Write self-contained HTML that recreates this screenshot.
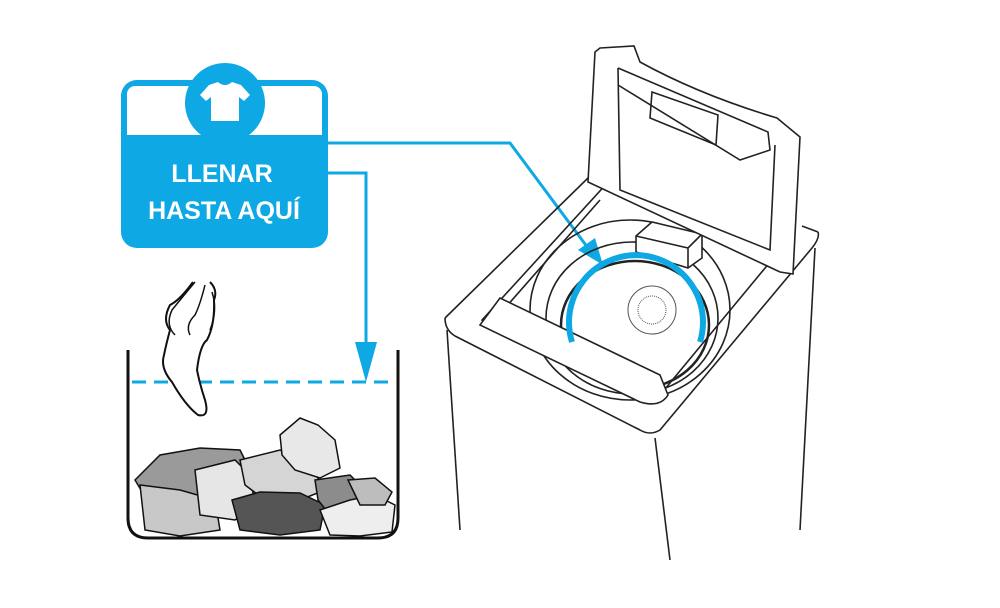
<!DOCTYPE html>
<html><head><meta charset="utf-8"><style>
html,body{margin:0;padding:0;background:#fff;}
svg{display:block;}
</style></head><body>
<svg width="1000" height="608" viewBox="0 0 1000 608" xmlns="http://www.w3.org/2000/svg">
<!-- label box -->
<rect x="121" y="80" width="207" height="168" rx="16" fill="#0ea8e4"/>
<rect x="127" y="86" width="195" height="49" rx="8" fill="#fff"/>
<rect x="127" y="120" width="195" height="15" fill="#fff"/>
<circle cx="225" cy="103" r="40" fill="#0ea8e4"/>
<path d="M209 85 L218 82 Q225 88 232 82 L241 85 L250 95 L244 101 L239 97 L239 121 L211 121 L211 97 L206 101 L200 95 Z" fill="#fff"/>
<text x="222" y="182" text-anchor="middle" font-family="Liberation Sans, sans-serif" font-weight="bold" font-size="25" fill="#fff">LLENAR</text>
<text x="224" y="219" text-anchor="middle" font-family="Liberation Sans, sans-serif" font-weight="bold" font-size="25" fill="#fff">HASTA AQUÍ</text>
<!-- connectors -->
<polyline points="328,143 510,143 588,248" fill="none" stroke="#0ea8e4" stroke-width="3"/>
<polygon points="603,265 578,250 595,238" fill="#0ea8e4"/>
<polyline points="328,173 366,173 366,350" fill="none" stroke="#0ea8e4" stroke-width="3"/>
<polygon points="355,342 377,342 366,382" fill="#0ea8e4"/>
<!-- bucket -->
<path d="M128 350 L128 518 Q128 538 148 538 L378 538 Q398 538 398 518 L398 350" fill="none" stroke="#111" stroke-width="3"/>
<line x1="132" y1="382" x2="396" y2="382" stroke="#0ea8e4" stroke-width="3" stroke-dasharray="14,8"/>
<!-- hand + sock -->
<path d="M193 282 Q180 300 170 305 Q162 320 170 330 Q166 345 164 355 Q160 368 172 382 Q185 405 198 415 Q210 418 205 400 Q200 385 197 370 Q200 345 207 340 Q215 325 214 300 Q218 290 210 282" fill="#fff" stroke="#111" stroke-width="2"/>
<path d="M195 282 Q180 300 172 310 Q165 325 175 335 M205 285 Q200 305 195 315 Q185 325 190 335 M212 292 Q218 310 210 330" fill="none" stroke="#111" stroke-width="1.5"/>
<!-- clothes -->
<g stroke="#111" stroke-width="1.5">
<path d="M135 480 L160 455 L200 448 L240 450 L250 470 L230 500 L190 510 L150 505 Z" fill="#9a9a9a"/>
<path d="M140 485 L180 490 L215 500 L220 530 L180 536 L145 530 Z" fill="#c8c8c8"/>
<path d="M195 470 L235 460 L250 475 L255 505 L235 520 L200 515 Z" fill="#e6e6e6"/>
<path d="M240 460 L280 450 L310 465 L325 490 L300 500 L265 500 L245 485 Z" fill="#d5d5d5"/>
<path d="M280 435 L300 418 L318 425 L335 440 L340 468 L320 478 L295 470 L282 455 Z" fill="#e8e8e8"/>
<path d="M232 500 L260 492 L300 493 L325 505 L320 530 L280 535 L240 530 Z" fill="#555"/>
<path d="M315 480 L350 475 L365 490 L355 510 L330 515 L318 500 Z" fill="#8c8c8c"/>
<path d="M320 510 L350 500 L375 495 L395 505 L392 532 L360 536 L330 535 Z" fill="#eee"/>
<path d="M348 480 L375 478 L392 492 L385 505 L360 505 Z" fill="#bdbdbd"/>
</g>
<!-- washer -->
<g fill="none" stroke="#222" stroke-width="1.6">
<path d="M445 318 L588 178"/>
<path d="M445 318 Q445 330 455 336 L640 430 Q650 436 660 430 L812 248 Q820 238 818 232"/>
<path d="M802 226 L818 232"/>
<line x1="447" y1="330" x2="460" y2="530"/>
<line x1="655" y1="438" x2="670" y2="560"/>
<line x1="815" y1="248" x2="800" y2="530"/>
<path d="M482 320 L610 180 L780 250 L660 395 Q650 405 635 398 Z"/>
<path d="M498 316 L600 200"/>
<ellipse cx="630" cy="310" rx="100" ry="90"/>
<ellipse cx="632" cy="318" rx="86" ry="76"/>
<ellipse cx="635" cy="325" rx="74" ry="64" stroke-width="2.5"/>
<circle cx="652" cy="310" r="24" stroke="#555" stroke-width="1"/>
<circle cx="652" cy="310" r="14" stroke="#555" stroke-width="1" stroke-dasharray="1,1"/>
<path d="M480 325 L500 298 L660 375 L668 395 Q660 408 640 402 Z" fill="#fff"/>
<path d="M636 236 L652 222 L702 234 L702 258 L688 268 L636 252 Z" fill="#fff"/>
<path d="M636 236 L688 248 L702 234 M688 248 L688 268"/>
<path d="M600 48 L634 46 L640 62 Q700 95 777 118 L800 137 L793 274 L780 272 L588 182 L595 52 Z" fill="#fff"/>
<path d="M618 68 L620 190 L770 250 L775 145"/>
<path d="M618 68 L768 132 L770 150 L740 160 L618 85"/>
<path d="M652 92 L718 115 L716 145 L650 118 Z"/>
</g>
<path d="M572 342 A67 67 0 1 1 700 342" fill="none" stroke="#0ea8e4" stroke-width="6"/>
</svg>
</body></html>
